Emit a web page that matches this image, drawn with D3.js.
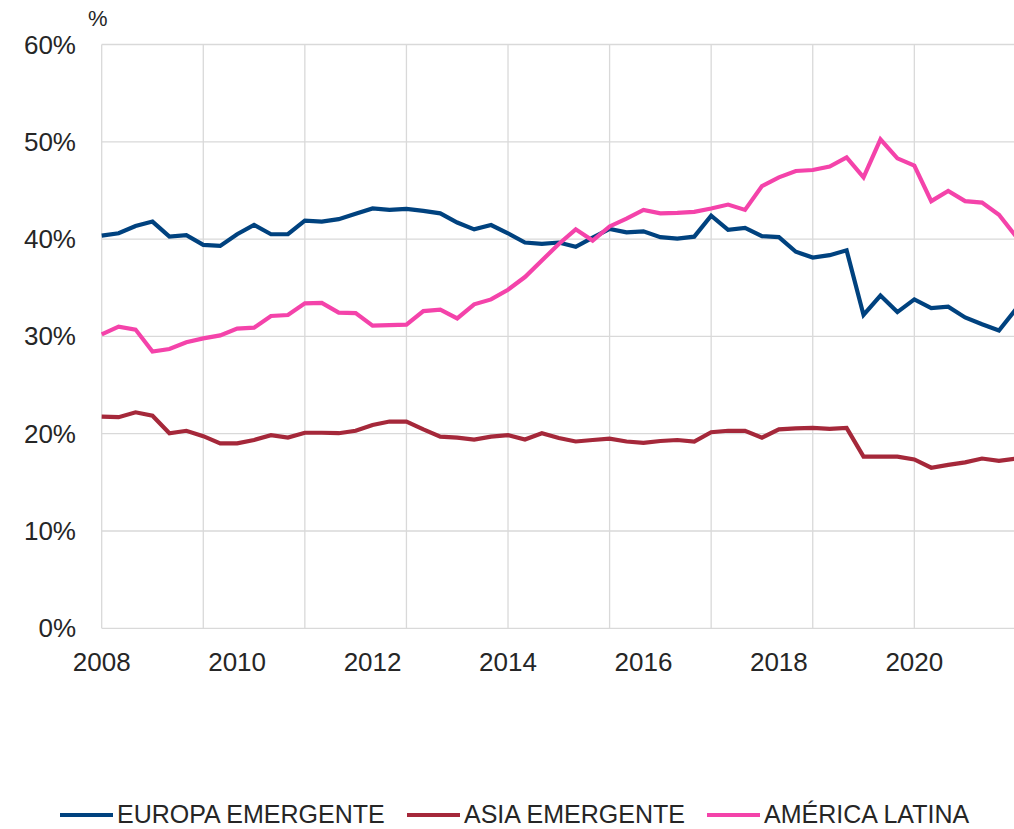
<!DOCTYPE html>
<meta charset="utf-8">
<script src="https://d3js.org/d3.v7.min.js"></script>
<style>
  body { margin: 0; background: #fff; }
  text { font-family: "Liberation Sans", Arial, sans-serif; fill: #262626; }
</style>
<body>
<svg id="svg" width="1014" height="829"></svg>
<script>
// quarterly categories 2008 T1 .. 2021 T3
var quarters = [
  "2008T1","2008T2","2008T3","2008T4","2009T1","2009T2","2009T3","2009T4",
  "2010T1","2010T2","2010T3","2010T4","2011T1","2011T2","2011T3","2011T4",
  "2012T1","2012T2","2012T3","2012T4","2013T1","2013T2","2013T3","2013T4",
  "2014T1","2014T2","2014T3","2014T4","2015T1","2015T2","2015T3","2015T4",
  "2016T1","2016T2","2016T3","2016T4","2017T1","2017T2","2017T3","2017T4",
  "2018T1","2018T2","2018T3","2018T4","2019T1","2019T2","2019T3","2019T4",
  "2020T1","2020T2","2020T3","2020T4","2021T1","2021T2","2021T3"
];

var europa = [40.35,40.6,41.35,41.8,40.25,40.4,39.4,39.3,40.5,41.45,
  40.5,40.5,41.9,41.8,42.05,42.6,43.15,43.0,43.1,42.9,
  42.65,41.7,41.0,41.45,40.6,39.65,39.5,39.65,39.2,40.15,
  41.05,40.7,40.8,40.2,40.05,40.25,42.4,40.95,41.15,40.3,
  40.2,38.7,38.1,38.35,38.85,32.2,34.2,32.5,33.8,32.9,
  33.05,31.95,31.25,30.6,32.8];

var asia = [21.75,21.7,22.2,21.85,20.05,20.3,19.75,19.0,19.0,19.35,
  19.85,19.6,20.1,20.1,20.05,20.3,20.9,21.25,21.25,20.45,
  19.7,19.6,19.4,19.7,19.85,19.4,20.05,19.55,19.2,19.35,
  19.5,19.2,19.05,19.25,19.35,19.2,20.15,20.3,20.3,19.6,
  20.45,20.55,20.6,20.5,20.6,17.65,17.65,17.65,17.35,16.5,
  16.8,17.05,17.45,17.2,17.45];

var latina = [30.2,31.0,30.7,28.45,28.7,29.4,29.8,30.1,30.8,30.9,
  32.1,32.2,33.4,33.45,32.45,32.4,31.1,31.15,31.2,32.6,
  32.75,31.85,33.3,33.8,34.8,36.1,37.8,39.5,41.0,39.85,
  41.3,42.1,43.0,42.65,42.7,42.8,43.15,43.55,43.0,45.45,
  46.35,47.0,47.1,47.45,48.4,46.35,50.25,48.3,47.55,43.9,
  44.95,43.9,43.75,42.5,40.3];

var yTicks = [0, 10, 20, 30, 40, 50, 60];
var xLabels = ["2008", "2010", "2012", "2014", "2016", "2018", "2020"];
var seriesNames = ["EUROPA EMERGENTE", "ASIA EMERGENTE", "AMÉRICA LATINA"];
var colors = ["#00427f", "#a5283a", "#f443aa"];

var svg = d3.select("svg");

var x = d3.scalePoint()
    .domain(quarters)
    .range([101.7, 1015.9]);

var y = d3.scaleLinear()
    .domain([0, 60])
    .range([628.3, 44.5]);

// gridlines
var grid = svg.append("g");
grid.selectAll("line.h")
    .data(yTicks)
    .enter().append("line")
    .attr("x1", x(quarters[0])).attr("x2", 1014)
    .attr("y1", function(d) { return y(d); })
    .attr("y2", function(d) { return y(d); })
    .attr("stroke", "#d9d9d9").attr("stroke-width", 1.3);

// vertical gridlines every 6 quarters
grid.selectAll("line.v")
    .data(quarters.filter(function(d, i) { return i % 6 === 0; }))
    .enter().append("line")
    .attr("x1", function(d) { return x(d); })
    .attr("x2", function(d) { return x(d); })
    .attr("y1", y(60)).attr("y2", y(0))
    .attr("stroke", "#d9d9d9").attr("stroke-width", 1.3);

// y axis labels
svg.append("g").selectAll("text")
    .data(yTicks)
    .enter().append("text")
    .attr("x", 76)
    .attr("y", function(d) { return y(d) + 9; })
    .attr("text-anchor", "end")
    .style("font-size", "26px")
    .text(function(d) { return d + "%"; });

svg.append("text")
    .attr("x", 88).attr("y", 26)
    .style("font-size", "22px")
    .text("%");

// x labels every 8 quarters
svg.append("g").selectAll("text")
    .data(xLabels)
    .enter().append("text")
    .attr("x", function(d, i) { return x(quarters[i * 8]); })
    .attr("y", 671)
    .attr("text-anchor", "middle")
    .style("font-size", "26px")
    .text(function(d) { return d; });

// lines
var line = d3.line()
    .x(function(d, i) { return x(quarters[i]); })
    .y(function(d) { return y(d); });

[europa, asia, latina].forEach(function(s, k) {
  svg.append("path")
      .datum(s)
      .attr("d", line)
      .attr("fill", "none")
      .attr("stroke", colors[k])
      .attr("stroke-width", 4.2);
});

// legend
var legendX = [60, 407, 707];
var legend = svg.append("g");
seriesNames.forEach(function(name, k) {
  legend.append("line")
      .attr("x1", legendX[k]).attr("x2", legendX[k] + 53)
      .attr("y1", 815).attr("y2", 815)
      .attr("stroke", colors[k]).attr("stroke-width", 4.2);
  legend.append("text")
      .attr("x", legendX[k] + 57)
      .attr("y", 823)
      .style("font-size", "25px")
      .text(name);
});
</script>
</body>
